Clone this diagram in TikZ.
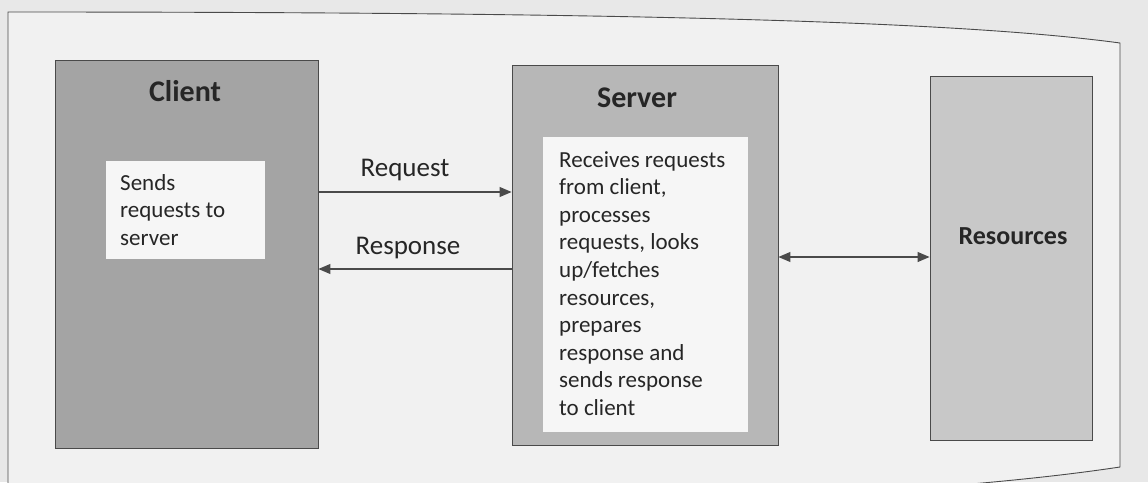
\documentclass[tikz,border=0pt]{standalone}
\usepackage{fontspec}
\setmainfont{Carlito}
\usetikzlibrary{arrows.meta}
\definecolor{pagebg}{HTML}{E8E8E8}
\definecolor{framebg}{HTML}{F1F1F1}
\definecolor{clientgray}{HTML}{A4A4A4}
\definecolor{servergray}{HTML}{B7B7B7}
\definecolor{resgray}{HTML}{C8C8C8}
\definecolor{innerwhite}{HTML}{F6F6F6}
\definecolor{inkc}{HTML}{262626}
\definecolor{linec}{HTML}{4A4A4A}
\tikzset{
  bigbox/.style={draw=linec, line width=0.9pt, inner sep=0pt},
  whitebox/.style={fill=innerwhite, inner sep=0pt},
  title/.style={font=\fontsize{30}{34}\selectfont\bfseries, text=inkc, inner sep=0pt},
  bodytext/.style={font=\fontsize{23}{27.6}\selectfont, text=inkc, align=left, inner sep=0pt, anchor=north west},
  edgelabel/.style={font=\fontsize{27}{31}\selectfont, text=inkc, inner sep=0pt},
  conn/.style={draw=linec, line width=1.1pt},
  tip/.style={-{Triangle[length=12pt,width=10pt]}},
  tips/.style={{Triangle[length=12pt,width=10pt]}-{Triangle[length=12pt,width=10pt]}}
}
\begin{document}
\begin{tikzpicture}[x=1pt,y=-1pt]
\useasboundingbox (0,0) rectangle (1148,482);
\fill[pagebg] (0,0) rectangle (1148,482);
% outer frame
\fill[framebg] (8,490) -- (8,12) .. controls (600,12) and (950,20) .. (1120,43) -- (1120,467) .. controls (1060,476) and (1000,482) .. (900,490) -- cycle;
\draw[linec, line width=0.9pt] (8,490) -- (8,12) .. controls (600,12) and (950,20) .. (1120,43) -- (1120,467) .. controls (1060,476) and (1000,482) .. (900,490);
% client
\node[bigbox, fill=clientgray, minimum width=263pt, minimum height=388pt] (client) at (186.5,254) {};
\node[title] (clientlabel) at (185,91) {Client};
\node[whitebox, minimum width=159pt, minimum height=98pt] (clientinner) at (185.5,210) {};
\node[bodytext] (clienttext) at (120,174) {Sends\\requests to\\server};
% server
\node[bigbox, fill=servergray, minimum width=266pt, minimum height=380pt] (server) at (645,255) {};
\node[title] (serverlabel) at (637,98) {Server};
\node[whitebox, minimum width=205pt, minimum height=295pt] (serverinner) at (645.5,284.5) {};
\node[bodytext] (servertext) at (559,151) {Receives requests\\from client,\\processes\\requests, looks\\up/fetches\\resources,\\prepares\\response and\\sends response\\to client};
% resources
\node[bigbox, fill=resgray, minimum width=162pt, minimum height=364pt] (res) at (1011,258) {};
\node[title, font=\fontsize{26}{30}\selectfont\bfseries] (reslabel) at (1013,236) {Resources};
% connectors
\coordinate (reqy) at (0,192);
\coordinate (respy) at (0,269);
\coordinate (resy) at (0,257);
\draw[conn, tip] (client.east |- reqy) -- (server.west |- reqy);
\draw[conn, tip] (server.west |- respy) -- (client.east |- respy);
\draw[conn, tips] (server.east |- resy) -- (res.west |- resy);
\node[edgelabel] (reqlabel) at (405,170) {Request};
\node[edgelabel] (resplabel) at (408,248) {Response};
\end{tikzpicture}
\end{document}
